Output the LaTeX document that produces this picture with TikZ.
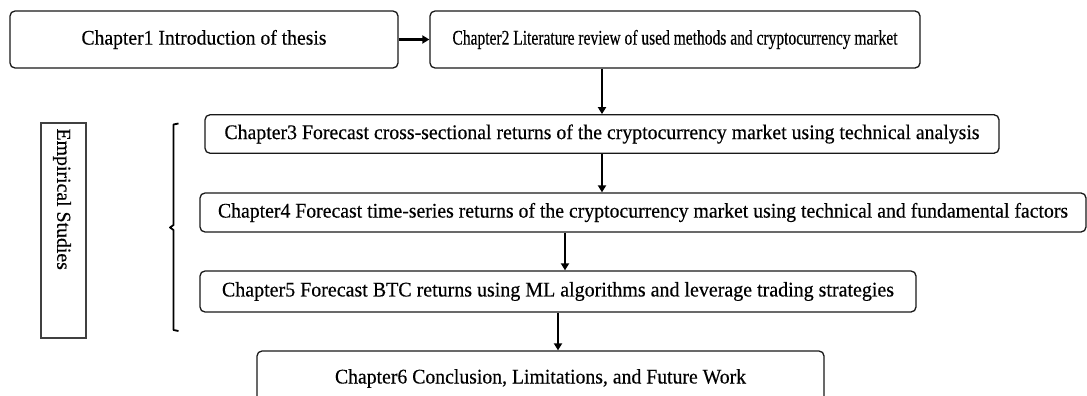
\documentclass[tikz,border=0pt]{standalone}
\usepackage{fontspec}
\setmainfont{Liberation Serif}[UprightFeatures={FakeBold=0.35}]
\usepackage{graphicx}
\usetikzlibrary{arrows.meta,calc}
\newcommand\fitw[2]{\resizebox{#1pt}{\height}{#2}}
\tikzset{
  chbox/.style={draw=black!90, line width=1.3pt, rounded corners=5pt, inner sep=0pt, fill=white,
    font=\fontsize{20.8}{23}\selectfont},
  arr/.style={line width=2.2pt, -{Triangle[length=7pt,width=8pt]}},
}
\begin{document}
\begin{tikzpicture}[x=1pt,y=-1pt]
\useasboundingbox (0,0) rectangle (1087,396);
\clip (0,0) rectangle (1087,396);
\fill[white] (0,0) rectangle (1087,396);
\node[chbox, minimum width=388pt, minimum height=57pt] (b1) at (204,39.5) {\fitw{245}{Chapter1 Introduction of thesis}};
\node[chbox, minimum width=490pt, minimum height=57pt] (b2) at (675,39.5) {\fitw{445}{Chapter2 Literature review of used methods and cryptocurrency market}};
\node[chbox, minimum width=794pt, minimum height=38.5pt] (b3) at (602,134) {\fitw{755}{Chapter3 Forecast cross-sectional returns of the cryptocurrency market using technical analysis}};
\node[chbox, minimum width=886pt, minimum height=39pt] (b4) at (643,212.5) {\fitw{850}{Chapter4 Forecast time-series returns of the cryptocurrency market using technical and fundamental factors}};
\node[chbox, minimum width=716pt, minimum height=41pt] (b5) at (558,291.5) {\fitw{672}{Chapter5 Forecast BTC returns using ML algorithms and leverage trading strategies}};
\node[chbox, minimum width=567pt, minimum height=55pt] (b6) at (540.5,378.5) {\fitw{411}{Chapter6 Conclusion, Limitations, and Future Work}};
% Empirical studies box
\node[draw=black!75, line width=1.3pt, minimum width=45pt, minimum height=215pt, inner sep=0pt] (emp) at (63.5,230.5) {};
\node[rotate=-90, anchor=west, inner sep=0pt, font=\fontsize{19.8}{22}\selectfont] (empt) at ($(emp.north)+(-1.5,6)$) {Empirical Studies};
% brace
\draw[line width=1.8pt, line join=round] (178.5,123.5) -- (173.5,124.5) -- (173.5,225) -- (170,227.5) -- (173.5,230) -- (173.5,330) -- (178.5,331);
% connectors
\coordinate (c45) at (565,0);
\draw[arr] (b1.east) -- (b2.west);
\draw[arr] (b3.north |- b2.south) -- (b3.north);
\draw[arr] (b3.south) -- (b3.south |- b4.north);
\draw[arr] (b4.south -| c45) -- (b5.north -| c45);
\draw[arr] (b5.south) -- (b5.south |- b6.north);
\end{tikzpicture}
\end{document}
